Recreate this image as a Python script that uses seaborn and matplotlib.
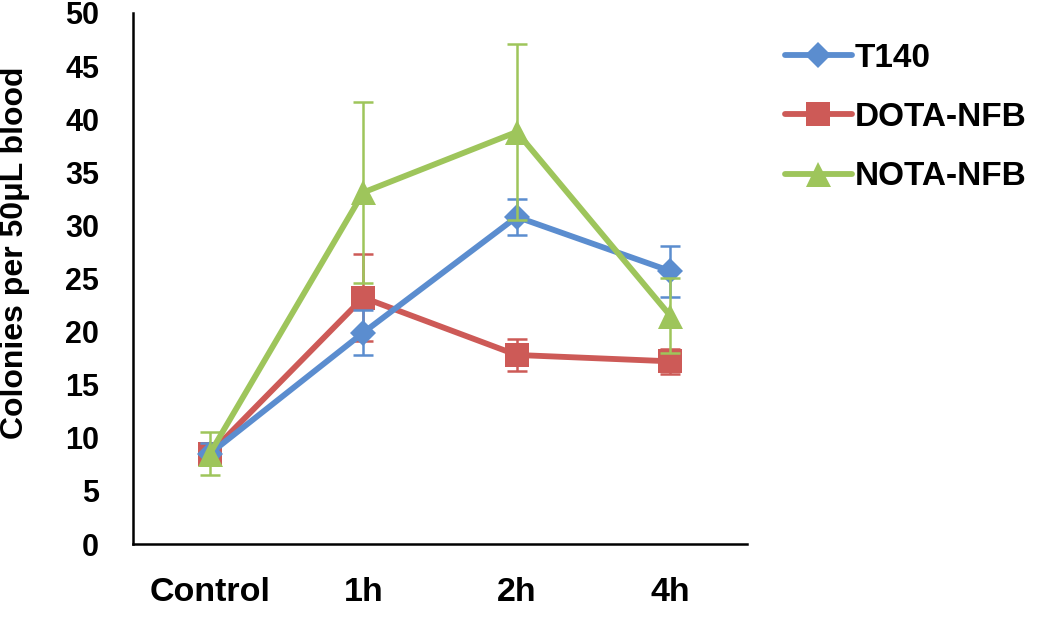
import matplotlib
matplotlib.use("Agg")
import matplotlib.pyplot as plt
import seaborn as sns
import pandas as pd
import numpy as np

categories = ["Control", "1h", "2h", "4h"]
series_names = ["T140", "DOTA-NFB", "NOTA-NFB"]
t140_mean = [8.5, 19.9, 30.8, 25.7]
t140_err = [1.0, 2.1, 1.7, 2.4]
dota_mean = [8.5, 23.2, 17.8, 17.2]
dota_err = [1.0, 4.1, 1.5, 1.2]
nota_mean = [8.5, 33.1, 38.8, 21.5]
nota_err = [2.0, 8.5, 8.3, 3.5]
y_ticks = [0, 5, 10, 15, 20, 25, 30, 35, 40, 45, 50]
y_label = "Colonies per 50μL blood"

colors = {"T140": "#5B8DCF", "DOTA-NFB": "#CD5A57", "NOTA-NFB": "#9EC55B"}
markers = {"T140": "D", "DOTA-NFB": "s", "NOTA-NFB": "^"}
msizes = {"T140": 13, "DOTA-NFB": 17.5, "NOTA-NFB": 18}

sns.set_style("white")
plt.rcParams["font.family"] = ["Liberation Sans", "DejaVu Sans"]
plt.rcParams["font.weight"] = "bold"
plt.rcParams["text.color"] = "black"
plt.rcParams["xtick.color"] = "black"
plt.rcParams["ytick.color"] = "black"
plt.rcParams["axes.labelcolor"] = "black"

means = {"T140": t140_mean, "DOTA-NFB": dota_mean, "NOTA-NFB": nota_mean}
errs = {"T140": t140_err, "DOTA-NFB": dota_err, "NOTA-NFB": nota_err}

rows = []
for s in series_names:
    for c, m in zip(categories, means[s]):
        rows.append({"cat": c, "val": m, "series": s})
df = pd.DataFrame(rows)

fig = plt.figure(figsize=(10.5, 6.17), dpi=100)
ax = fig.add_axes([0.1267, 0.1183, 0.5847, 0.8607])

draw_order = ["DOTA-NFB", "T140", "NOTA-NFB"]
for z, s in enumerate(draw_order):
    sub = df[df["series"] == s]
    xpos = np.arange(len(categories))
    ax.errorbar(xpos, means[s], yerr=errs[s], fmt="none", ecolor=colors[s],
                elinewidth=1.8, capsize=7, capthick=1.8, zorder=2 + z * 2)
    sns.lineplot(data=sub, x="cat", y="val", ax=ax, color=colors[s],
                 marker=markers[s], markersize=msizes[s], markeredgewidth=0,
                 linewidth=4.2, sort=False, zorder=3 + z * 2, label=s)

if ax.get_legend():
    ax.get_legend().remove()

ax.set_xlim(-0.5, len(categories) - 0.5)
ax.set_ylim(0, 50)
ax.set_yticks(y_ticks)
ax.set_yticklabels([str(v) for v in y_ticks], fontsize=22, fontweight="bold")
ax.set_xticks(range(len(categories)))
ax.set_xticklabels(categories, fontsize=24.5, fontweight="bold")
ax.set_xticks(np.arange(-0.5, len(categories), 1.0), minor=True)
ax.tick_params(axis="x", which="major", length=0, pad=24)
ax.tick_params(axis="x", which="minor", length=7.5, width=1.8, direction="out", color="black")
ax.tick_params(axis="y", which="major", length=7.5, width=1.8, direction="out", color="black", pad=17)
ax.set_xlabel("")
ax.set_ylabel(y_label, fontsize=23, fontweight="bold", va="center")
ax.yaxis.set_label_coords(-0.192, 0.549)

for sp in ["top", "right"]:
    ax.spines[sp].set_visible(False)
for sp in ["left", "bottom"]:
    ax.spines[sp].set_linewidth(1.8)
    ax.spines[sp].set_color("black")

h, l = ax.get_legend_handles_labels()
order = [l.index(s) for s in series_names]
leg = fig.legend([h[i] for i in order], [l[i] for i in order],
                 loc="upper left", bbox_to_anchor=(0.7476, 0.931), frameon=False,
                 fontsize=24, handlelength=2.0, handletextpad=0.1, labelspacing=0.85,
                 borderpad=0, borderaxespad=0)
for t in leg.get_texts():
    t.set_fontweight("bold")

fig.savefig("out.png", dpi=100)
